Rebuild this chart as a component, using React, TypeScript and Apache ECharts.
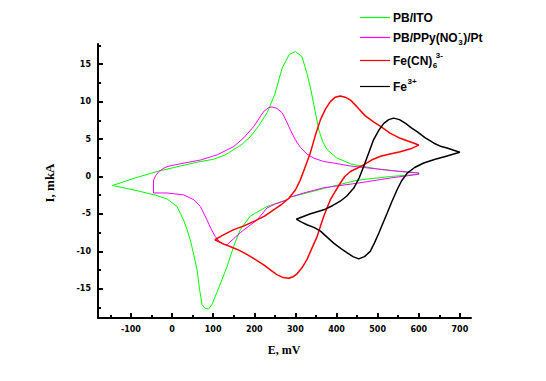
import React, { useEffect, useRef } from "react";
import * as echarts from "echarts";

// ---- data (E in mV, I in mkA) ----
const greenE = [-145, -90, -36, 20, 69, 101, 130, 150, 170, 190, 210, 231, 250, 268, 285, 300, 316, 328, 336, 347, 357, 367, 377, 400, 434, 450, 500, 550, 600,
  600, 531, 450, 369, 320, 288, 280, 231, 190, 166, 150, 134, 120, 109, 98, 89, 80, 73, 67, 61, 53, 45, 36, 28, 20, 12, -12, -40, -77, -110, -145];
const greenI = [-1.2, -0.2, 0.67, 1.4, 2.0, 2.3, 2.9, 3.6, 4.3, 5.3, 6.7, 8.5, 11.0, 14.5, 16.3, 16.7, 16.0, 13.8, 12.0, 9.0, 6.2, 4.6, 3.6, 2.5, 1.7, 1.5, 1.0, 0.7, 0.5,
  0.3, 0.0, -0.5, -1.6, -2.3, -2.75, -3.1, -4.0, -5.3, -7.1, -9.3, -12.0, -14.0, -15.5, -17.0, -17.7, -17.6, -17.1, -15.1, -12.5, -10.5, -8.6, -7.0, -5.8, -4.9, -4.0, -3.0, -2.5, -2.0, -1.6, -1.2];

const pinkE = [-45, -45, -40, -32, -20, -12, 20, 69, 110, 150, 175, 199, 223, 235, 243, 255, 268, 278, 288, 300, 312, 328, 345, 369, 393, 434, 450, 500, 550, 600,
  600, 531, 450, 369, 320, 288, 280, 250, 231, 207, 185, 166, 150, 134, 126, 115, 105, 95, 85, 69, 53, 28, -12, -45];
const pinkI = [-2.2, -0.5, 0.1, 0.67, 1.1, 1.33, 1.7, 2.2, 2.9, 4.0, 5.2, 6.7, 8.7, 9.2, 9.3, 9.1, 8.5, 7.4, 6.2, 4.9, 3.9, 3.0, 2.45, 2.0, 1.8, 1.4, 1.3, 1.0, 0.7, 0.45,
  0.3, -0.2, -0.9, -1.5, -2.2, -2.75, -3.1, -3.7, -4.2, -5.8, -6.7, -7.5, -8.3, -9.1, -9.1, -8.7, -8.0, -7.0, -5.8, -4.0, -3.1, -2.45, -2.2, -2.2];

const redE = [104, 125, 150, 175, 199, 225, 247, 265, 284, 300, 312, 324, 336, 348, 361, 373, 385, 397, 409, 421, 434, 450, 470, 490, 507, 530, 555, 580, 600,
  580, 555, 530, 507, 485, 466, 450, 434, 420, 409, 397, 385, 377, 369, 361, 353, 340, 328, 316, 304, 294, 284, 270, 255, 240, 223, 200, 182, 165, 150, 125, 104];
const redI = [-8.45, -7.8, -7.1, -6.6, -6.0, -5.3, -4.45, -3.8, -2.9, -1.8, -0.45, 1.3, 3.1, 5.4, 7.6, 9.0, 10.0, 10.6, 10.76, 10.6, 10.2, 9.3, 8.1, 7.3, 6.7, 5.8, 5.1, 4.6, 4.2,
  3.7, 3.3, 3.0, 2.7, 2.2, 1.56, 1.1, 0.67, 0.0, -0.9, -2.0, -3.1, -4.2, -5.3, -6.6, -8.0, -9.6, -11.1, -12.2, -13.0, -13.4, -13.6, -13.5, -13.1, -12.5, -11.8, -11.0, -10.4, -9.9, -9.55, -9.0, -8.45];

const blackE = [302, 335, 369, 390, 409, 425, 442, 455, 466, 478, 490, 503, 515, 527, 539, 553, 568, 582, 596, 615, 637, 655, 669, 685, 700,
  685, 669, 640, 612, 590, 572, 558, 547, 535, 523, 513, 503, 492, 482, 468, 454, 440, 426, 410, 393, 377, 361, 345, 328, 315, 302];
const blackI = [-5.7, -5.0, -4.45, -3.9, -3.3, -2.6, -1.55, -0.2, 1.33, 3.1, 4.9, 6.2, 7.1, 7.6, 7.8, 7.6, 7.1, 6.5, 6.0, 5.2, 4.45, 4.0, 3.8, 3.5, 3.25,
  3.0, 2.75, 2.3, 1.8, 1.2, 0.45, -0.6, -1.8, -3.3, -4.9, -6.2, -7.55, -8.9, -10.0, -10.7, -11.0, -10.7, -10.2, -9.6, -8.9, -8.1, -7.3, -6.8, -6.45, -6.1, -5.7];

const xMajorTicks = [-100, 0, 100, 200, 300, 400, 500, 600, 700];
const xMinorTicks = [-150, -50, 50, 150, 250, 350, 450, 550, 650];
const yMajorTicks = [-15, -10, -5, 0, 5, 10, 15];
const yMinorTicks = [-17.5, -12.5, -7.5, -2.5, 2.5, 7.5, 12.5, 17.5];

const legendNames = ["PB/ITO", "PB/PPy(NO3-)/Pt", "Fe(CN)6 3-", "Fe3+"];
const seriesColors = ["#00ff00", "#ff00ff", "#ff0000", "#000000"];
const xTitle = "E, mV";
const yTitle = "I, mkA";

const zip = (xs: number[], ys: number[]) => xs.map((x, i) => [x, ys[i]]);

function measure(text: string, font: string): number {
  const c = document.createElement("canvas").getContext("2d");
  if (!c) return text.length * 7;
  c.font = font;
  return c.measureText(text).width;
}

export default function App() {
  const ref = useRef<HTMLDivElement>(null);
  useEffect(() => {
    if (!ref.current) return;
    const chart = echarts.init(ref.current, undefined, { renderer: "svg" });
    const FONT_SANS = "Liberation Sans";
    const mainSize = 12;
    const smallSize = 8;
    const mainFont = `bold ${mainSize}px "${FONT_SANS}"`;
    const smallFont = `bold ${smallSize}px "${FONT_SANS}"`;
    const lx0 = 360, tx = 393;
    const rows = [17.5, 37.5, 60.5, 86.5];
    const txt = (x: number, y: number, s: string, size: number) => ({
      type: "text", x, y, z: 10,
      style: { text: s, fill: "#000", font: `bold ${size}px "${FONT_SANS}"`, textAlign: "left", textVerticalAlign: "middle" },
    });
    const legend: any[] = [];
    rows.forEach((y, i) => {
      legend.push({
        type: "line", z: 10,
        shape: { x1: lx0, y1: y, x2: lx0 + 30, y2: y },
        style: { stroke: seriesColors[i], lineWidth: 1.2, fill: null },
      });
    });
    legend.push(txt(tx, rows[0], "PB/ITO", mainSize));
    const w1 = measure("PB/PPy(NO", mainFont);
    legend.push(txt(tx, rows[1], "PB/PPy(NO", mainSize));
    legend.push(txt(tx + w1 + 0.5, rows[1] + 5, "3", smallSize));
    legend.push(txt(tx + w1 + 0.5, rows[1] - 5, "-", smallSize));
    legend.push(txt(tx + w1 + measure("3", smallFont) + 1, rows[1], ")/Pt", mainSize));
    const w3 = measure("Fe(CN)", mainFont);
    legend.push(txt(tx, rows[2], "Fe(CN)", mainSize));
    legend.push(txt(tx + w3 + 0.5, rows[2] + 5, "6", smallSize));
    legend.push(txt(tx + w3 + 3.5, rows[2] - 5, "3-", smallSize));
    const w4 = measure("Fe", mainFont);
    legend.push(txt(tx, rows[3], "Fe", mainSize));
    legend.push(txt(tx + w4 + 0.5, rows[3] - 5, "3+", smallSize));

    const labelStyle = { color: "#000", fontWeight: "bold" as const, fontSize: 8, fontFamily: "DejaVu Sans" };
    const axisLine = { show: true, onZero: false, lineStyle: { color: "#000", width: 2 } };
    const grid = { left: 98, right: 75, top: 44, bottom: 63 };
    const xMin = -180, xMax = 727, yMin = -18.9, yMax = 17.7;

    const datas = [zip(greenE, greenI), zip(pinkE, pinkI), zip(redE, redI), zip(blackE, blackI)];
    const widths = [1, 1, 1.5, 1.5];
    const series = datas.map((d, i) => ({
      type: "line", name: legendNames[i], data: d, showSymbol: false, symbol: "none",
      lineStyle: { color: seriesColors[i], width: widths[i] }, itemStyle: { color: seriesColors[i] },
      xAxisIndex: 0, yAxisIndex: 0, z: 3,
    }));

    chart.setOption({
      animation: false,
      backgroundColor: "#fff",
      grid,
      xAxis: [
        {
          type: "value", min: xMin, max: xMax, position: "bottom", axisLine,
          axisTick: { show: true, inside: true, length: 5, customValues: xMajorTicks, lineStyle: { color: "#000", width: 2 } },
          axisLabel: { ...labelStyle, margin: 7, customValues: xMajorTicks },
          splitLine: { show: false },
        },
        {
          type: "value", min: xMin, max: xMax, position: "bottom", offset: 0,
          axisLine: { show: false, onZero: false },
          axisTick: { show: true, inside: true, length: 3, customValues: xMinorTicks, lineStyle: { color: "#000", width: 2 } },
          axisLabel: { show: false }, splitLine: { show: false },
        },
      ],
      yAxis: [
        {
          type: "value", min: yMin, max: yMax, position: "left", axisLine,
          axisTick: { show: true, inside: true, length: 5, customValues: yMajorTicks, lineStyle: { color: "#000", width: 2 } },
          axisLabel: { ...labelStyle, margin: 7, customValues: yMajorTicks },
          splitLine: { show: false },
        },
        {
          type: "value", min: yMin, max: yMax, position: "left", offset: 0,
          axisLine: { show: false, onZero: false },
          axisTick: { show: true, inside: true, length: 3, customValues: yMinorTicks, lineStyle: { color: "#000", width: 2 } },
          axisLabel: { show: false }, splitLine: { show: false },
        },
      ],
      series,
      graphic: [
        ...legend,
        {
          type: "text", x: 284, y: 350,
          style: { text: xTitle, fill: "#000", font: 'bold 12px "Liberation Serif"', textAlign: "center", textVerticalAlign: "middle" },
        },
        {
          type: "text", x: 49, y: 183, rotation: Math.PI / 2,
          style: { text: yTitle, fill: "#000", font: 'bold 13px "Liberation Serif"', textAlign: "center", textVerticalAlign: "middle" },
        },
      ],
    });
    return () => chart.dispose();
  }, []);
  return <div ref={ref} style={{ position: "fixed", left: 0, top: 0, width: 546, height: 381, background: "#fff" }} />;
}
